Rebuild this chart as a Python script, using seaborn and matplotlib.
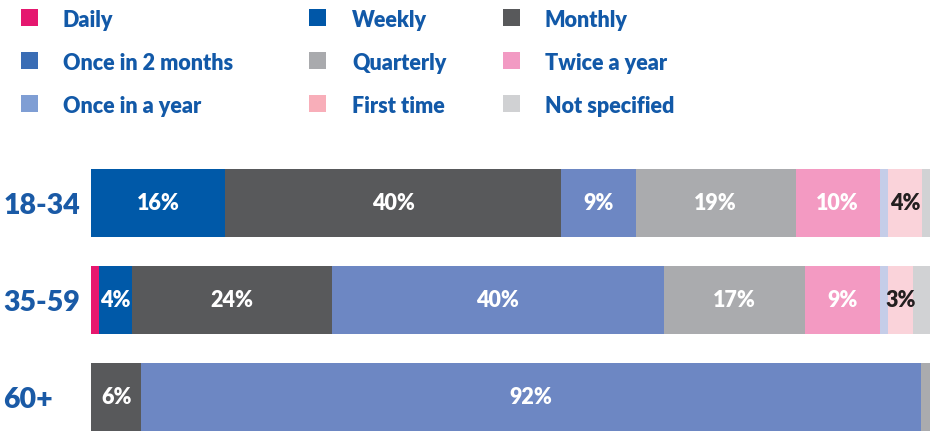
import matplotlib
matplotlib.use("Agg")
import matplotlib.pyplot as plt
import seaborn as sns
import pandas as pd
import numpy as np
from matplotlib.patches import Rectangle

sns.set_theme(style="white")
plt.rcParams['font.family'] = ['Lato', 'DejaVu Sans']

groups = ["18-34", "35-59", "60+"]
series = ["Daily", "Weekly", "Monthly", "Once in 2 months", "Quarterly",
          "Twice a year", "Once in a year", "First time", "Not specified"]
daily = [0.0, 1.0, 0.0]
weekly = [16.0, 3.9, 0.0]
monthly = [40.0, 23.8, 6.0]
once_2_months = [8.9, 39.6, 92.9]
quarterly = [19.1, 16.8, 1.1]
twice_year = [10.0, 8.9, 0.0]
once_year = [1.0, 1.0, 0.0]
first_time = [4.0, 3.0, 0.0]
not_specified = [1.0, 2.0, 0.0]
values = [daily, weekly, monthly, once_2_months, quarterly,
          twice_year, once_year, first_time, not_specified]

# labels shown inside segments (None = no label)
labels = {
    "Weekly": ["16%", "4%", None],
    "Monthly": ["40%", "24%", "6%"],
    "Once in 2 months": ["9%", "40%", "92%"],
    "Quarterly": ["19%", "17%", None],
    "Twice a year": ["10%", "9%", None],
    "First time": ["4%", "3%", None],
}

bar_colors = ["#E6176E", "#0059A8", "#58595B", "#6D87C3", "#AAABAE",
              "#F39AC2", "#C5CDE8", "#FAD3DA", "#D1D2D4"]
legend_colors = ["#E5176F", "#0057A8", "#58595B", "#3A6DB5", "#A9AAAD",
                 "#F29AC3", "#7F9ED4", "#F8AEB9", "#D0D1D3"]
label_colors = {"First time": "#231F20"}

df = pd.DataFrame({s: v for s, v in zip(series, values)}, index=groups)
cum = df.cumsum(axis=1)

W, H = 936, 435
fig = plt.figure(figsize=(W / 100, H / 100), dpi=100)
ax_top = 155.5
ax = fig.add_axes([91 / W, 0, 839 / W, (H - ax_top) / H])

for i in range(len(series) - 1, -1, -1):
    s = series[i]
    d = pd.DataFrame({"group": groups, "val": cum[s].values})
    sns.barplot(data=d, y="group", x="val", order=groups, color=bar_colors[i],
                orient="h", width=0.7, linewidth=0, saturation=1, ax=ax)

for s, labs in labels.items():
    for j, lab in enumerate(labs):
        if lab is None:
            continue
        xc = cum[s].iloc[j] - df[s].iloc[j] / 2
        ax.text(xc, j, lab, ha="center", va="center", fontsize=15.5,
                fontweight="heavy", color=label_colors.get(s, "white"))

ax.set_xlim(0, 100)
ax.set_ylim((H - 204) / 97, -0.5)
ax.set_xlabel("")
ax.set_ylabel("")
ax.set_xticks([])
ax.tick_params(axis="y", length=0, pad=63)
for t in ax.get_yticklabels():
    t.set_ha("left")
    t.set_fontsize(20.5)
    t.set_fontweight("heavy")
    t.set_color("#1A5AA6")
sns.despine(ax=ax, left=True, bottom=True)

# legend grid (3 columns x 3 rows)
col_sq = [21, 309, 503]
col_tx = [63, 352, 545]
row_y = [18.5, 61, 104.5]
for k, s in enumerate(series):
    r, c = divmod(k, 3)
    x0 = col_sq[c]
    yc = row_y[r]
    fig.add_artist(Rectangle((x0 / W, 1 - (yc + 8.5) / H), 17 / W, 17 / H,
                             transform=fig.transFigure, color=legend_colors[k], lw=0))
    fig.text(col_tx[c] / W, 1 - (yc + 2) / H, s, ha="left", va="center",
             fontsize=15.5, fontweight="heavy", color="#1259A8")

fig.savefig("out.png", dpi=100)
